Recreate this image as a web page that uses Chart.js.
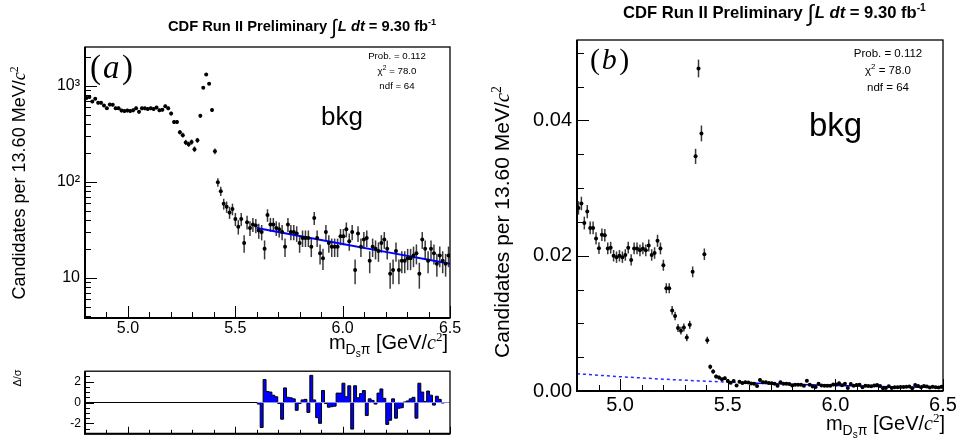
<!DOCTYPE html>
<html>
<head>
<meta charset="utf-8">
<script src="https://cdn.jsdelivr.net/npm/chart.js@4.4.1/dist/chart.umd.min.js"></script>
<style>
  html, body { margin: 0; padding: 0; background: #fff; width: 960px; height: 445px; overflow: hidden; }
  canvas { position: absolute; }
  #cMain { left: 0; top: 0; }
  #cPull { left: 0; top: 360px; }
  #cNorm { left: 480px; top: 0; }
</style>
</head>
<body>
<canvas id="cMain" width="480" height="360"></canvas>
<canvas id="cPull" width="480" height="85"></canvas>
<canvas id="cNorm" width="480" height="445"></canvas>
<script>
// ---- histogram binning: 125 bins of 13.60 MeV/c^2 from 4.8 to 6.5 GeV/c^2 ----
const massLow = 4.8;
const massHigh = 6.5;
const binWidth = 0.0136;

// background candidates per bin
const counts = [
  750, 768, 688, 735, 668, 668, 625, 585, 640, 638,
  584, 587, 554, 548, 554, 548, 557, 587, 537, 584,
  584, 576, 584, 576, 596, 557, 565, 615, 584, 515,
  421, 421, 330, 307, 258, 247, 260, 219, 271, 488,
  961, 1321, 1055, 560, 208, 99, 80, 59, 55, 48,
  52, 41, 34, 41, 23, 38, 33, 36, 35, 31,
  30, 20, 45, 36, 36, 33, 32, 30, 21, 36,
  30, 30, 29, 23, 26, 26, 26, 21, 42, 26,
  18, 16, 30, 23, 21, 21, 21, 27, 27, 32,
  24, 30, 12, 29, 21, 25, 26, 15, 21, 20,
  19, 23, 25, 20, 11, 12, 19, 12, 15, 15,
  16, 16, 17, 18, 11, 25, 20, 15, 20, 18,
  14, 17, 15, 14, 17
];
// normalisation of the right-hand panel (entries of the template)
const normEntries = 27700;

// exponential fit of the upper sideband (fit range 5.6 - 6.5)
const fitLow = 5.6;
const fitMass = [4.8, 5.0, 5.2, 5.4, 5.6, 5.8, 6.0, 6.2, 6.4, 6.5];
const fitCounts = [70.8, 58.5, 48.4, 39.9, 33.0, 27.3, 22.5, 18.6, 15.4, 14.0];

// fit residuals (data - fit)/sigma, first fitted bin index 59
const firstPullBin = 59;
const pulls = [
  -0.1, -0.15, -2.4, 2.2, 1.05, 1.0, 0.7, 0.55, -0.1, -1.6,
  1.4, 0.5, 0.45, 0.35, -0.75, -0.1, 0.25, 0.3, -0.95, 2.6,
  0.25, -1.45, -2.0, 1.15, -0.1, -0.45, -0.4, -0.35, 0.9, 0.9,
  1.85, 0.55, 1.6, -2.55, 1.6, 0.45, 0.85, 1.15, -1.25, 0.35,
  0.2, -0.15, 0.9, 1.3, 0.4, -2.1, -1.7, 0.35, -1.5, -0.55,
  -0.5, 0.05, 0.15, 0.35, 0.5, -1.5, 1.85, 1.0, 0.1, 1.1,
  0.7, -0.25, 0.6, 0.3, -0.05, 0.0
];

// fit statistics
const fitProb = '0.112';
const fitChi2 = '78.0';
const fitNdf = '64';

// axis ticks
const xTickValues = [5.0, 5.5, 6.0, 6.5];
const xTickLabels = ['5.0', '5.5', '6.0', '6.5'];
const xMinorTicks = [4.9, 5.1, 5.2, 5.3, 5.4, 5.6, 5.7, 5.8, 5.9, 6.1, 6.2, 6.3, 6.4];
const yTickValuesLog = [10, 100, 1000];
const yTickLabelsLog = ['10', '10\u00B2', '10\u00B3'];
const yMinorLog = [4, 5, 6, 7, 8, 9, 20, 30, 40, 50, 60, 70, 80, 90, 200, 300, 400, 500, 600, 700, 800, 900, 2000];
const yTickValuesNorm = [0, 0.02, 0.04];
const yTickLabelsNorm = ['0.00', '0.02', '0.04'];
const yMinorNorm = [0.005, 0.01, 0.015, 0.025, 0.03, 0.035, 0.045, 0.05];
const yTickValuesPull = [-2, 0, 2];
const yTickLabelsPull = ['-2', '0', '2'];
const yMinorPull = [-2.5, -1.5, -1, -0.5, 0.5, 1, 1.5, 2.5];

// ---- derived series ----
const binCenters = counts.map((_, i) => massLow + binWidth * (i + 0.5));
const binEdge = k => massLow + binWidth * k;
const pointsMain = binCenters.map((m, i) => ({ x: m, y: counts[i] }));
const errorsMain = binCenters.map((m, i) => ({ x: m, y: [counts[i] - Math.sqrt(counts[i]), counts[i] + Math.sqrt(counts[i])] }));
const pointsNorm = binCenters.map((m, i) => ({ x: m, y: counts[i] / normEntries }));
const errorsNorm = binCenters.map((m, i) => ({ x: m, y: [(counts[i] - Math.sqrt(counts[i])) / normEntries, (counts[i] + Math.sqrt(counts[i])) / normEntries] }));
const fitInRange = fitMass.map((m, i) => ({ x: m, y: fitCounts[i] })).filter(p => p.x >= fitLow);
const fitBelow = fitMass.map((m, i) => ({ x: m, y: fitCounts[i] })).filter(p => p.x <= fitLow);
const pullOutline = [{ x: binEdge(firstPullBin), y: 0 }];
pulls.forEach((p, j) => pullOutline.push({ x: binEdge(firstPullBin + j), y: p }));
pullOutline.push({ x: binEdge(firstPullBin + pulls.length), y: pulls[pulls.length - 1] });
pullOutline.push({ x: binEdge(firstPullBin + pulls.length), y: 0 });

// ---- fonts ----
const SANS = '"Liberation Sans", Arial, Helvetica, sans-serif';
const SERIF = '"Liberation Serif", "Times New Roman", serif';
Chart.defaults.font.family = SANS;
Chart.defaults.color = '#000';

function partFont(p, item) {
  const size = p.size || item.size;
  return (p.italic ? 'italic ' : '') + (p.bold ? 'bold ' : '') + size + 'px ' + (p.serif ? SERIF : SANS);
}

// draws mixed-font labels (sub/superscripts, italics)
const richText = {
  id: 'richText',
  afterDraw(chart, args, opts) {
    const ctx = chart.ctx;
    (opts.items || []).forEach(item => {
      ctx.save();
      ctx.translate(item.x, item.y);
      if (item.rotate) ctx.rotate(item.rotate);
      ctx.textBaseline = 'alphabetic';
      ctx.textAlign = 'left';
      ctx.fillStyle = '#000';
      const widths = item.parts.map(p => { ctx.font = partFont(p, item); return ctx.measureText(p.t).width + (p.gap || 0); });
      const total = widths.reduce((a, b) => a + b, 0);
      let x = item.align === 'center' ? -total / 2 : item.align === 'right' ? -total : 0;
      item.parts.forEach((p, i) => { ctx.font = partFont(p, item); ctx.fillText(p.t, x, p.dy || 0); x += widths[i]; });
      ctx.restore();
    });
  }
};

// frame around the plot area with inward tick marks
const rootFrame = {
  id: 'rootFrame',
  afterDatasetsDraw(chart, args, o) {
    const { ctx, chartArea: a } = chart;
    ctx.save();
    ctx.strokeStyle = '#000';
    (o.marks || []).forEach(m => {
      const s = chart.scales[m.axis];
      ctx.lineWidth = 1;
      ctx.beginPath();
      m.values.forEach(v => {
        const p = Math.round(s.getPixelForValue(v)) + 0.5;
        if (m.axis === 'x') { ctx.moveTo(p, a.bottom); ctx.lineTo(p, a.bottom - m.length); }
        else { ctx.moveTo(a.left, p); ctx.lineTo(a.left + m.length, p); }
      });
      ctx.stroke();
    });
    ctx.lineWidth = 1.3;
    ctx.strokeRect(a.left, a.top, a.right - a.left, a.bottom - a.top);
    ctx.lineWidth = 2;
    ctx.beginPath();
    ctx.moveTo(a.left, a.top);
    ctx.lineTo(a.left, a.bottom);
    ctx.lineTo(a.right, a.bottom);
    ctx.stroke();
    ctx.restore();
  }
};

function xScale(height, fontSize, pad, showLabels) {
  return {
    type: 'linear', min: massLow, max: massHigh, offset: false,
    afterBuildTicks: s => { s.ticks = xTickValues.map(v => ({ value: v })); },
    afterFit: s => { s.height = height; },
    grid: { display: false, drawTicks: false, offset: false },
    border: { display: false },
    ticks: { display: showLabels, autoSkip: false, maxRotation: 0, minRotation: 0, padding: pad,
             font: { size: fontSize }, color: '#000', callback: (v, i) => xTickLabels[i] }
  };
}
function yScale(type, min, max, values, labels, width, fontSize, pad) {
  return {
    type: type, min: min, max: max, offset: false,
    afterBuildTicks: s => { s.ticks = values.map(v => ({ value: v })); },
    afterFit: s => { s.width = width; },
    grid: { display: false, drawTicks: false },
    border: { display: false },
    ticks: { autoSkip: false, padding: pad, font: { size: fontSize }, color: '#000', callback: (v, i) => labels[i] }
  };
}
function header(x, y, size) {
  return { x: x, y: y, size: size, align: 'left', parts: [
    { t: 'CDF Run II Preliminary ', bold: true },
    { t: '\u222B', size: size * 1.4, dy: size * 0.2, gap: 1 },
    { t: 'L dt', bold: true, italic: true },
    { t: ' = 9.30 fb', bold: true },
    { t: '-1', bold: true, size: size * 0.62, dy: -size * 0.42 }
  ] };
}
function statsBox(cx, y0, dy, size) {
  return [
    { x: cx, y: y0, size: size, align: 'center', parts: [{ t: 'Prob. = ' + fitProb }] },
    { x: cx, y: y0 + dy, size: size, align: 'center', parts: [{ t: '\u03C7' }, { t: '2', size: size * 0.7, dy: -size * 0.4 }, { t: ' = ' + fitChi2 }] },
    { x: cx, y: y0 + 2 * dy, size: size, align: 'center', parts: [{ t: 'ndf = ' + fitNdf }] }
  ];
}
function massTitle(x, y, size) {
  return { x: x, y: y, size: size, align: 'right', parts: [
    { t: 'm' },
    { t: 'D', size: size * 0.7, dy: size * 0.25 },
    { t: 's', size: size * 0.5, dy: size * 0.42 },
    { t: '\u03C0', size: size * 0.7, dy: size * 0.25 },
    { t: ' [GeV/' },
    { t: 'c', serif: true, italic: true },
    { t: '2', serif: true, size: size * 0.65, dy: -size * 0.4 },
    { t: ']' }
  ] };
}
function candTitle(x, y, size) {
  return { x: x, y: y, size: size, align: 'center', rotate: -Math.PI / 2, parts: [
    { t: 'Candidates per 13.60 MeV/' },
    { t: 'c', serif: true, italic: true },
    { t: '2', serif: true, size: size * 0.65, dy: -size * 0.4 }
  ] };
}
function panelTag(x, y, size, letter) {
  return { x: x, y: y, size: size, align: 'left', parts: [
    { t: '(', serif: true, gap: size * 0.06 },
    { t: letter, serif: true, italic: true, gap: size * 0.08 },
    { t: ')', serif: true }
  ] };
}

const common = { responsive: false, animation: false, events: [] };

// ---- (a) log-scale histogram with fit ----
new Chart(document.getElementById('cMain'), {
  type: 'scatter',
  data: { datasets: [
    { type: 'scatter', data: pointsMain, pointRadius: 2, pointBackgroundColor: '#000', pointBorderWidth: 0, order: 0 },
    { type: 'bar', data: errorsMain, backgroundColor: '#3a3a3a', grouped: false, maxBarThickness: 1.5, order: 2 },
    { type: 'line', data: fitInRange, showLine: true, borderColor: '#0000ff', borderWidth: 2, pointRadius: 0, fill: false, order: 1 }
  ] },
  options: Object.assign({}, common, {
    layout: { padding: { left: 0, right: 30, top: 47, bottom: 0 } },
    scales: {
      x: xScale(42, 16, 1, true),
      y: yScale('logarithmic', 3.8, 2550, yTickValuesLog, yTickLabelsLog, 85, 16, 5)
    },
    plugins: {
      legend: { display: false }, tooltip: { enabled: false },
      rootFrame: { marks: [
        { axis: 'x', values: xTickValues, length: 12 }, { axis: 'x', values: xMinorTicks, length: 6 },
        { axis: 'y', values: yTickValuesLog, length: 12 }, { axis: 'y', values: yMinorLog, length: 6 }
      ] },
      richText: { items: [
        header(168, 31, 14.7),
        ...statsBox(397, 59, 15, 9.7),
        { x: 321, y: 125, size: 26, parts: [{ t: 'bkg' }] },
        panelTag(90, 78, 33, 'a'),
        candTitle(25, 183, 18),
        massTitle(448, 349, 20)
      ] }
    }
  }),
  plugins: [rootFrame, richText]
});

// ---- (a) fit residuals ----
new Chart(document.getElementById('cPull'), {
  type: 'scatter',
  data: { datasets: [
    { type: 'line', data: [{ x: massLow, y: 0 }, { x: binEdge(firstPullBin), y: 0 }], showLine: true, borderColor: '#000', borderWidth: 1, pointRadius: 0, fill: false, order: 2 },
    { type: 'line', data: pullOutline, showLine: true, stepped: 'after', borderColor: '#000', borderWidth: 1,
      backgroundColor: '#0000ff', fill: 'origin', pointRadius: 0, order: 1 },
    { type: 'line', data: [{ x: binEdge(firstPullBin), y: 0 }, { x: massHigh, y: 0 }], showLine: true, borderColor: '#8a8aff', borderWidth: 1, pointRadius: 0, fill: false, order: 0 }
  ] },
  options: Object.assign({}, common, {
    layout: { padding: { left: 0, right: 30, top: 7, bottom: 0 } },
    scales: {
      x: xScale(7, 10, 0, false),
      y: yScale('linear', -3, 3, yTickValuesPull, yTickLabelsPull, 85, 12, 4)
    },
    plugins: {
      legend: { display: false }, tooltip: { enabled: false },
      rootFrame: { marks: [
        { axis: 'x', values: xTickValues, length: 7 }, { axis: 'x', values: xMinorTicks, length: 4 },
        { axis: 'y', values: yTickValuesPull, length: 9 }, { axis: 'y', values: yMinorPull, length: 5 }
      ] },
      richText: { items: [
        { x: 21, y: 18, size: 11, align: 'center', rotate: -Math.PI / 2, parts: [{ t: '\u0394/\u03C3' }] }
      ] }
    }
  }),
  plugins: [rootFrame, richText]
});

// ---- (b) normalised histogram with fit ----
new Chart(document.getElementById('cNorm'), {
  type: 'scatter',
  data: { datasets: [
    { type: 'scatter', data: pointsNorm, pointRadius: 2, pointBackgroundColor: '#000', pointBorderWidth: 0, order: 0 },
    { type: 'bar', data: errorsNorm, backgroundColor: '#3a3a3a', grouped: false, maxBarThickness: 1.5, order: 3 },
    { type: 'line', data: fitBelow.map(p => ({ x: p.x, y: p.y / normEntries })), showLine: true, borderColor: '#2a2aff',
      borderWidth: 1.5, borderDash: [3, 3], pointRadius: 0, fill: false, order: 2 },
    { type: 'line', data: fitInRange.map(p => ({ x: p.x, y: p.y / normEntries })), showLine: true, borderColor: '#0000ee',
      borderWidth: 1.5, pointRadius: 0, fill: false, order: 1 }
  ] },
  options: Object.assign({}, common, {
    layout: { padding: { left: 0, right: 17, top: 40, bottom: 0 } },
    scales: {
      x: xScale(54, 20, 2, true),
      y: yScale('linear', 0, 0.0519, yTickValuesNorm, yTickLabelsNorm, 97, 20, 5)
    },
    plugins: {
      legend: { display: false }, tooltip: { enabled: false },
      rootFrame: { marks: [
        { axis: 'x', values: xTickValues, length: 12 }, { axis: 'x', values: xMinorTicks, length: 6 },
        { axis: 'y', values: yTickValuesNorm, length: 12 }, { axis: 'y', values: yMinorNorm, length: 7 }
      ] },
      richText: { items: [
        header(143, 18, 16.6),
        ...statsBox(408, 57, 17, 11.5),
        { x: 329, y: 136, size: 33, parts: [{ t: 'bkg' }] },
        panelTag(110, 69, 30, 'b'),
        candTitle(29, 222, 21),
        massTitle(465, 430, 20)
      ] }
    }
  }),
  plugins: [rootFrame, richText]
});
</script>
</body>
</html>
